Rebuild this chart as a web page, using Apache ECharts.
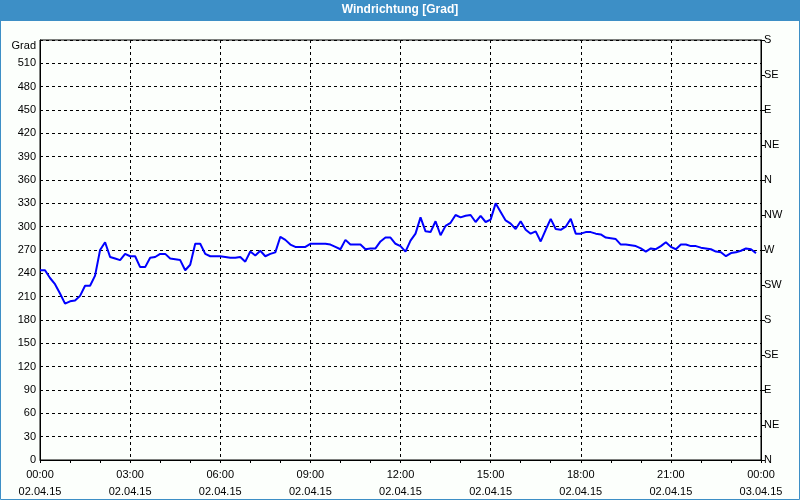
<!DOCTYPE html>
<html>
<head>
<meta charset="utf-8">
<script src="https://cdn.jsdelivr.net/npm/echarts@6/dist/echarts.min.js"></script>
<style>
html,body{margin:0;padding:0;background:#fcfffc;}
#chart{width:800px;height:500px;}
</style>
</head>
<body>
<div id="chart"></div>
<script>
// Time step of the samples, in minutes after 00:00 on 02.04.15
var stepMinutes = 10;
// Wind direction in degrees, one value every 10 minutes
var windDir = [
  244, 244, 234, 226, 214, 201, 204, 205, 211, 224,
  224, 237, 270, 280, 261, 259, 257, 265, 262, 262,
  248, 248, 260, 261, 265, 265, 259, 258, 257, 244,
  251, 278, 278, 265, 262, 262, 262, 261, 260, 260,
  261, 255, 268, 263, 269, 262, 265, 267, 287, 283,
  277, 274, 274, 274, 278, 278, 278, 278, 277, 274,
  271, 283, 277, 277, 277, 271, 272, 272, 281, 286,
  286, 278, 275, 268, 282, 291, 312, 294, 293, 307,
  289, 301, 305, 315, 312, 314, 315, 306, 314, 306,
  309, 330, 319, 308, 304, 297, 307, 296, 291, 294,
  281, 296, 310, 297, 296, 300, 310, 291, 291, 293,
  293, 291, 290, 286, 285, 284, 277, 277, 276, 275,
  272, 268, 272, 271, 275, 280, 274, 271, 277, 277,
  275, 275, 273, 272, 271, 268, 267, 262, 266, 267,
  269, 272, 271, 266
];
// X axis tick labels (every 3 hours)
var xTickLabels = [
  '00:00\n02.04.15', '03:00\n02.04.15', '06:00\n02.04.15', '09:00\n02.04.15',
  '12:00\n02.04.15', '15:00\n02.04.15', '18:00\n02.04.15', '21:00\n02.04.15',
  '00:00\n03.04.15'
];
// Right axis compass labels, every 45 degrees from 0 to 540
var compassLabels = ['N', 'NE', 'E', 'SE', 'S', 'SW', 'W', 'NW', 'N', 'NE', 'E', 'SE', 'S'];
var yUnit = 'Grad';
var titleText = 'Windrichtung [Grad]';

var seriesData = windDir.map(function (v, i) { return [i * stepMinutes, v]; });

var font = 'Liberation Sans';
var chart = echarts.init(document.getElementById('chart'), null, {renderer: 'canvas'});
chart.setOption({
  backgroundColor: '#fcfffc',
  animation: false,
  title: {
    text: titleText,
    left: 'center',
    top: 3,
    padding: [1, 5, 1, 5],
    textStyle: {color: '#ffffff', fontSize: 12, fontWeight: 'bold', fontFamily: font}
  },
  graphic: [
    {type: 'rect', z: -1, shape: {x: 0, y: 0, width: 800, height: 21}, style: {fill: '#3d8fc6'}},
    {type: 'rect', z: -1, shape: {x: 0.5, y: 0.5, width: 799, height: 499}, style: {fill: null, stroke: '#3d8fc6', lineWidth: 1}}
  ],
  grid: {
    left: 40, right: 39, top: 40, bottom: 39,
    show: true, borderColor: '#000', borderWidth: 1, backgroundColor: 'transparent'
  },
  xAxis: {
    type: 'value', min: 0, max: 1440, interval: 180,
    axisLine: {show: true, lineStyle: {color: '#000', width: 1}},
    axisTick: {show: true, length: 3, lineStyle: {color: '#000'}},
    minorTick: {show: true, splitNumber: 3, length: 3, lineStyle: {color: '#000'}},
    splitLine: {show: true, lineStyle: {color: '#000', type: [3, 3], width: 1}},
    axisLabel: {
      color: '#000', fontSize: 11, fontFamily: font, lineHeight: 17, margin: 6,
      showMinLabel: true, showMaxLabel: true,
      formatter: function (v) { return xTickLabels[Math.round(v / 180)]; }
    }
  },
  yAxis: [
    {
      type: 'value', min: 0, max: 540, interval: 30, position: 'left',
      axisLine: {show: true, lineStyle: {color: '#000'}},
      axisTick: {show: false},
      splitLine: {show: true, lineStyle: {color: '#000', type: [3, 3], width: 1}},
      axisLabel: {
        color: '#000', fontSize: 11, fontFamily: font, margin: 4,
        formatter: function (v) { return v === 540 ? '{g|' + yUnit + '}' : String(v); },
        rich: {g: {color: '#000', fontSize: 11, fontFamily: font, padding: [12, 0, 0, 0]}}
      }
    },
    {
      type: 'value', min: 0, max: 540, interval: 45, position: 'right',
      axisLine: {show: true, lineStyle: {color: '#000'}},
      axisTick: {show: true, inside: false, length: 4, lineStyle: {color: '#000'}},
      splitLine: {show: false},
      axisLabel: {
        color: '#000', fontSize: 11, fontFamily: font, margin: 3,
        formatter: function (v) { return compassLabels[Math.round(v / 45)]; }
      }
    }
  ],
  series: [{
    type: 'line',
    data: seriesData,
    showSymbol: false,
    symbol: 'none',
    lineStyle: {color: '#0000ff', width: 2},
    z: 5
  }]
});
</script>
</body>
</html>
